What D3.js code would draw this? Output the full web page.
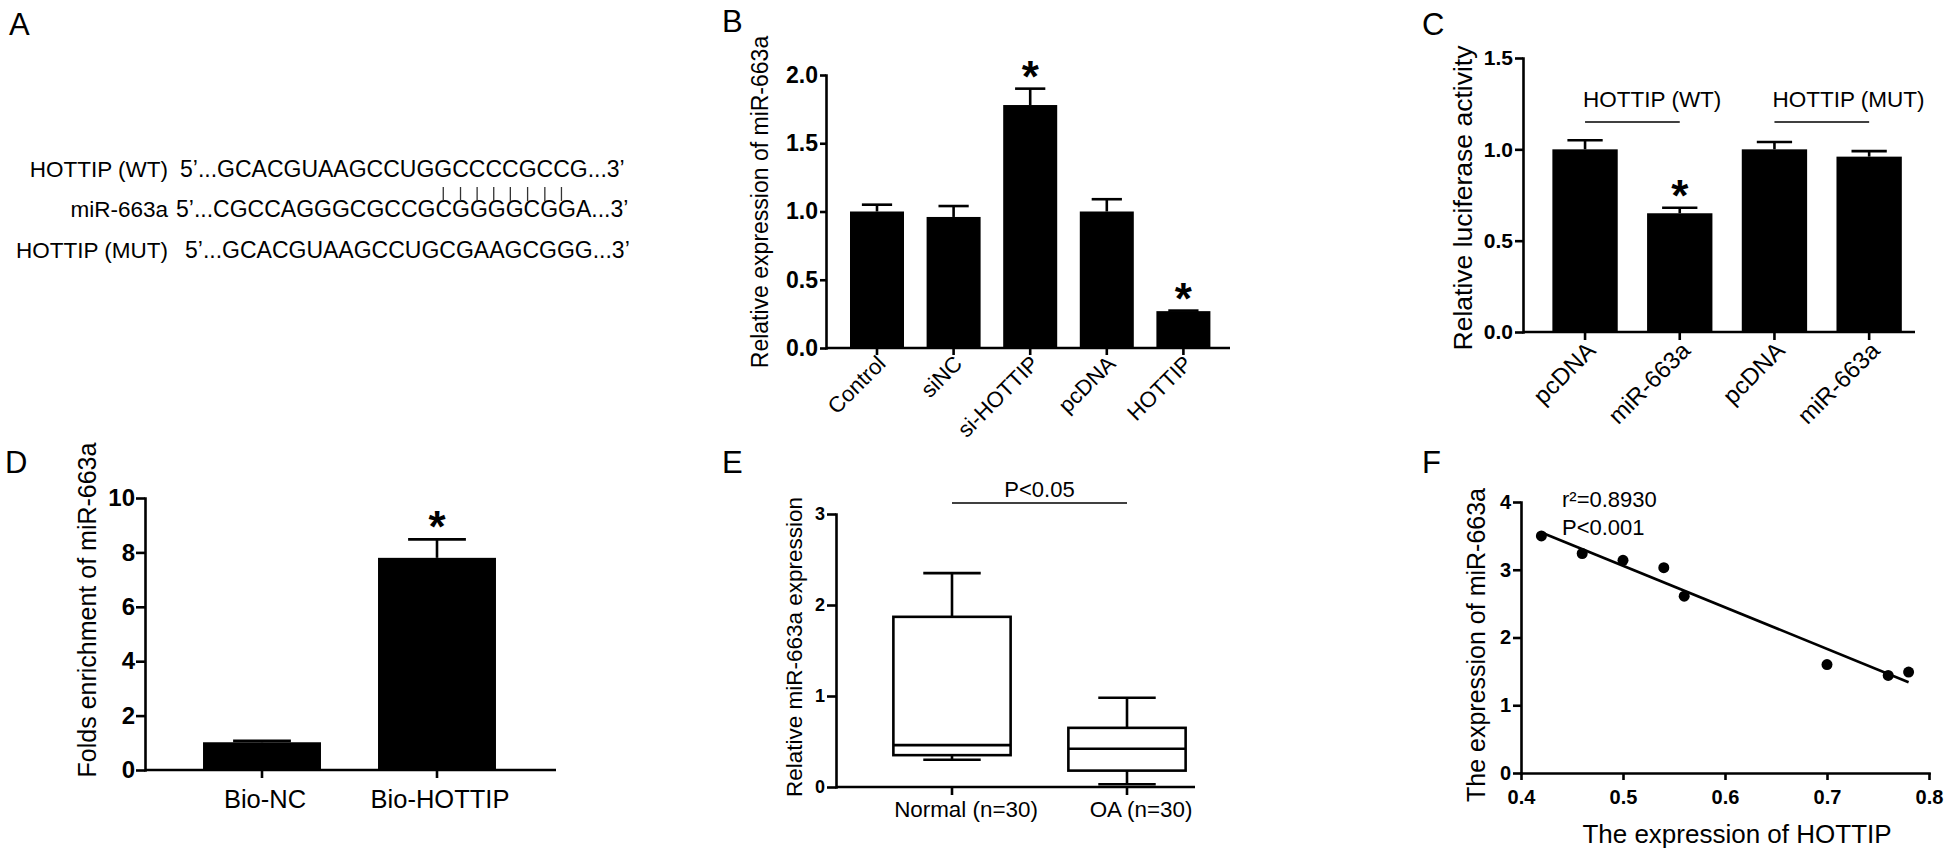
<!DOCTYPE html>
<html>
<head>
<meta charset="utf-8">
<script src="https://cdn.jsdelivr.net/npm/d3@7"></script>
<style>
  body { margin: 0; background: #fff; }
  svg { display: block; }
  text { font-family: "Liberation Sans", Arial, Helvetica, sans-serif; fill: #000; }
</style>
</head>
<body>
<script>
// ---- panel A: sequences
var seqNames = ["HOTTIP (WT)", "miR-663a", "HOTTIP (MUT)"];
var seqTexts = [
  "5’...GCACGUAAGCCUGGCCCCGCCG...3’",
  "5’...CGCCAGGGCGCCGCGGGGCGGA...3’",
  "5’...GCACGUAAGCCUGCGAAGCGGG...3’"
];
var pairedBases = [13, 14, 15, 16, 17, 18, 19, 20]; // index in WT sequence

// ---- panel B
var bLabels = ["Control", "siNC", "si-HOTTIP", "pcDNA", "HOTTIP"];
var bMeans = [1.00, 0.96, 1.78, 1.00, 0.27];
var bErrs = [0.05, 0.08, 0.12, 0.09, 0.004];
var bSig = [false, false, true, false, true];
var bTicks = [0, 0.5, 1.0, 1.5, 2.0];

// ---- panel C
var cLabels = ["pcDNA", "miR-663a", "pcDNA", "miR-663a"];
var cMeans = [1.00, 0.65, 1.00, 0.96];
var cErrs = [0.05, 0.03, 0.04, 0.03];
var cSig = [false, true, false, false];
var cGroups = ["HOTTIP (WT)", "HOTTIP (MUT)"];
var cTicks = [0, 0.5, 1.0, 1.5];

// ---- panel D
var dLabels = ["Bio-NC", "Bio-HOTTIP"];
var dMeans = [1.02, 7.80];
var dErrs = [0.05, 0.68];
var dSig = [false, true];
var dTicks = [0, 2, 4, 6, 8, 10];

// ---- panel E (box plots)
var eLabels = ["Normal (n=30)", "OA (n=30)"];
var eMin = [0.30, 0.03];
var eQ1 = [0.35, 0.18];
var eMed = [0.46, 0.42];
var eQ3 = [1.87, 0.65];
var eMax = [2.35, 0.98];
var eTicks = [0, 1, 2, 3];

// ---- panel F (correlation)
var fHottip = [0.42, 0.46, 0.50, 0.54, 0.56, 0.70, 0.76, 0.78];
var fMir = [3.50, 3.24, 3.14, 3.03, 2.61, 1.60, 1.44, 1.49];
var fXTicks = [0.4, 0.5, 0.6, 0.7, 0.8];
var fYTicks = [0, 1, 2, 3, 4];

var panelLetters = ["A", "B", "C", "D", "E", "F"];
var letterPos = [[9, 35], [722, 32], [1422, 35], [5, 473], [722, 473], [1422, 473]];

var LW = 2.6;

var svg = d3.select("body").append("svg")
  .attr("width", 1946)
  .attr("height", 855);

svg.append("rect").attr("width", 1946).attr("height", 855).attr("fill", "#fff");

svg.selectAll("text.letter")
  .data(panelLetters)
  .enter().append("text")
    .attr("class", "letter")
    .attr("x", function(d, i) { return letterPos[i][0]; })
    .attr("y", function(d, i) { return letterPos[i][1]; })
    .attr("font-size", 31)
    .text(function(d) { return d; });

function styleAxis(a, fs) {
  a.attr("font-family", null).attr("font-size", null);
  a.select(".domain").attr("stroke", "#000").attr("stroke-width", LW).attr("stroke-linecap", "square");
  a.selectAll(".tick line").attr("stroke", "#000").attr("stroke-width", LW);
  a.selectAll(".tick text").attr("font-size", fs).attr("font-weight", "bold").attr("fill", "#000");
}

function yAxis(g, y, x, ticks, fmt, o) {
  var a = g.append("g")
    .attr("transform", "translate(" + x + ",0)")
    .call(d3.axisLeft(y).tickValues(ticks).tickFormat(fmt)
      .tickSize(o.len).tickSizeOuter(0).tickPadding(o.pad));
  styleAxis(a, o.fs);
  return a;
}

function yTitle(g, text, x, cy, fs) {
  g.append("text")
    .attr("transform", "translate(" + x + "," + cy + ") rotate(-90)")
    .attr("text-anchor", "middle")
    .attr("font-size", fs)
    .text(text);
}

function star(g, cx, cy) {
  g.append("text")
    .attr("x", cx)
    .attr("y", cy + 24)
    .attr("text-anchor", "middle")
    .attr("font-size", 44)
    .attr("font-weight", "bold")
    .text("*");
}

// generic bar chart with mean + upper error bar
function barPanel(o) {
  var g = svg.append("g");
  var y = d3.scaleLinear().domain(o.yDom).range([o.y0, o.y1]);
  var x = d3.scaleBand()
    .domain(d3.range(o.labels.length))
    .range(o.band)
    .paddingInner(o.pad)
    .paddingOuter(o.pad / 2);
  var bw = x.bandwidth();
  var cx = function(i) { return x(i) + bw / 2; };

  g.selectAll("rect.bar")
    .data(o.means)
    .enter().append("rect")
      .attr("class", "bar")
      .attr("x", function(d, i) { return x(i); })
      .attr("width", bw)
      .attr("y", function(d) { return y(d); })
      .attr("height", function(d) { return y(0) - y(d); })
      .attr("fill", "#000");

  var err = g.selectAll("g.err")
    .data(o.means)
    .enter().append("g")
      .attr("class", "err");
  err.append("line")
    .attr("x1", function(d, i) { return cx(i); })
    .attr("x2", function(d, i) { return cx(i); })
    .attr("y1", function(d) { return y(d); })
    .attr("y2", function(d, i) { return y(d + o.errs[i]); })
    .attr("stroke", "#000").attr("stroke-width", LW);
  err.append("line")
    .attr("x1", function(d, i) { return cx(i) - bw * o.cap; })
    .attr("x2", function(d, i) { return cx(i) + bw * o.cap; })
    .attr("y1", function(d, i) { return y(d + o.errs[i]); })
    .attr("y2", function(d, i) { return y(d + o.errs[i]); })
    .attr("stroke", "#000").attr("stroke-width", LW);

  o.sig.forEach(function(s, i) {
    if (s) star(g, cx(i), y(o.means[i] + o.errs[i]) - 21);
  });

  // x axis: line + ticks at the band centres
  g.append("line")
    .attr("x1", o.x0).attr("x2", o.xEnd)
    .attr("y1", y(0)).attr("y2", y(0))
    .attr("stroke", "#000").attr("stroke-width", LW);
  g.selectAll("line.xt")
    .data(o.labels)
    .enter().append("line")
      .attr("class", "xt")
      .attr("x1", function(d, i) { return cx(i); })
      .attr("x2", function(d, i) { return cx(i); })
      .attr("y1", y(0)).attr("y2", y(0) + o.xTick)
      .attr("stroke", "#000").attr("stroke-width", LW);

  yAxis(g, y, o.x0, o.ticks, o.fmt, o.yax);

  var lab = g.selectAll("text.xl")
    .data(o.labels)
    .enter().append("text")
      .attr("class", "xl")
      .attr("font-size", o.labelFs)
      .text(function(d) { return d; });
  if (o.rotate) {
    lab.attr("text-anchor", "end")
      .attr("transform", function(d, i) {
        return "translate(" + (cx(i) + o.ldx) + "," + (y(0) + o.ldy) + ") rotate(-45)";
      });
  } else {
    lab.attr("text-anchor", "middle")
      .attr("x", function(d, i) { return cx(i) + o.ldx; })
      .attr("y", y(0) + o.ldy);
  }

  yTitle(g, o.title, o.titleX, o.titleY, o.titleFs);
  return { g: g, x: x, y: y, cx: cx };
}

// ---------------- A
var gA = svg.append("g");
var rowY = [177, 217, 258];
var seqX = [180, 176, 185];
gA.selectAll("text.name")
  .data(seqNames)
  .enter().append("text")
    .attr("class", "name")
    .attr("x", 168)
    .attr("y", function(d, i) { return rowY[i]; })
    .attr("text-anchor", "end")
    .attr("font-size", 22.5)
    .attr("fill", "#111")
    .text(function(d) { return d; });
var seqs = gA.selectAll("text.seq")
  .data(seqTexts)
  .enter().append("text")
    .attr("class", "seq")
    .attr("x", function(d, i) { return seqX[i]; })
    .attr("y", function(d, i) { return rowY[i]; })
    .attr("font-size", 23)
    .attr("fill", "#111")
    .text(function(d) { return d; });
var wtNode = seqs.nodes()[0];
gA.selectAll("line.pair")
  .data(pairedBases)
  .enter().append("line")
    .attr("class", "pair")
    .attr("x1", function(k) { var e = wtNode.getExtentOfChar(5 + k); return e.x + e.width / 2; })
    .attr("x2", function(k) { var e = wtNode.getExtentOfChar(5 + k); return e.x + e.width / 2; })
    .attr("y1", 187).attr("y2", 201)
    .attr("stroke", "#333").attr("stroke-width", 1.3);

// ---------------- B
barPanel({
  labels: bLabels, means: bMeans, errs: bErrs, sig: bSig,
  yDom: [0, 2], y0: 348, y1: 75, ticks: bTicks, fmt: d3.format(".1f"),
  band: [838.7, 1221.7], pad: 0.295, cap: 0.28,
  x0: 826, xEnd: 1230, xTick: 7,
  yax: { len: 6, pad: 2, fs: 23 },
  rotate: true, labelFs: 22, ldx: 10, ldy: 17,
  title: "Relative expression of miR-663a", titleX: 768, titleY: 202, titleFs: 23
});

// ---------------- C
var pc = barPanel({
  labels: cLabels, means: cMeans, errs: cErrs, sig: cSig,
  yDom: [0, 1.5], y0: 332, y1: 58, ticks: cTicks, fmt: d3.format(".1f"),
  band: [1537.7, 1916.5], pad: 0.31, cap: 0.27,
  x0: 1523, xEnd: 1915, xTick: 8,
  yax: { len: 8, pad: 2, fs: 21 },
  rotate: true, labelFs: 24, ldx: 12, ldy: 20,
  title: "Relative luciferase activity", titleX: 1472, titleY: 198, titleFs: 26.5
});
cGroups.forEach(function(name, j) {
  var a = pc.cx(2 * j), b = pc.cx(2 * j + 1);
  pc.g.append("text")
    .attr("x", a - 2).attr("y", 107)
    .attr("font-size", 22.5)
    .text(name);
  pc.g.append("line")
    .attr("x1", a).attr("x2", b)
    .attr("y1", 122).attr("y2", 122)
    .attr("stroke", "#000").attr("stroke-width", 1.6);
});

// ---------------- D
barPanel({
  labels: dLabels, means: dMeans, errs: dErrs, sig: dSig,
  yDom: [0, 10], y0: 770, y1: 498, ticks: dTicks, fmt: d3.format("d"),
  band: [174.5, 524.5], pad: 0.326, cap: 0.245,
  x0: 145, xEnd: 556, xTick: 8,
  yax: { len: 9, pad: 1, fs: 24 },
  rotate: false, labelFs: 25.5, ldx: 3, ldy: 38,
  title: "Folds enrichment of miR-663a", titleX: 96, titleY: 610, titleFs: 25
});

// ---------------- E
var gE = svg.append("g");
var yE = d3.scaleLinear().domain([0, 3]).range([787, 514]);
var xE = d3.scaleBand().domain(d3.range(eLabels.length))
  .range([864.5, 1214.5]).paddingInner(0.33).paddingOuter(0.165);
var ebw = xE.bandwidth();
var ecx = function(i) { return xE(i) + ebw / 2; };
var boxes = gE.selectAll("g.box")
  .data(eLabels)
  .enter().append("g")
    .attr("class", "box")
    .attr("stroke", "#000").attr("stroke-width", LW).attr("fill", "none");
boxes.append("rect")
  .attr("x", function(d, i) { return xE(i); })
  .attr("width", ebw)
  .attr("y", function(d, i) { return yE(eQ3[i]); })
  .attr("height", function(d, i) { return yE(eQ1[i]) - yE(eQ3[i]); });
boxes.append("line")
  .attr("x1", function(d, i) { return xE(i); })
  .attr("x2", function(d, i) { return xE(i) + ebw; })
  .attr("y1", function(d, i) { return yE(eMed[i]); })
  .attr("y2", function(d, i) { return yE(eMed[i]); });
boxes.append("line")
  .attr("x1", function(d, i) { return ecx(i); })
  .attr("x2", function(d, i) { return ecx(i); })
  .attr("y1", function(d, i) { return yE(eQ3[i]); })
  .attr("y2", function(d, i) { return yE(eMax[i]); });
boxes.append("line")
  .attr("x1", function(d, i) { return ecx(i); })
  .attr("x2", function(d, i) { return ecx(i); })
  .attr("y1", function(d, i) { return yE(eQ1[i]); })
  .attr("y2", function(d, i) { return yE(eMin[i]); });
[eMax, eMin].forEach(function(arr) {
  boxes.append("line")
    .attr("x1", function(d, i) { return ecx(i) - ebw * 0.245; })
    .attr("x2", function(d, i) { return ecx(i) + ebw * 0.245; })
    .attr("y1", function(d, i) { return yE(arr[i]); })
    .attr("y2", function(d, i) { return yE(arr[i]); });
});
gE.append("line")
  .attr("x1", 836).attr("x2", 1195)
  .attr("y1", yE(0)).attr("y2", yE(0))
  .attr("stroke", "#000").attr("stroke-width", LW);
gE.selectAll("line.xt")
  .data(eLabels)
  .enter().append("line")
    .attr("x1", function(d, i) { return ecx(i); })
    .attr("x2", function(d, i) { return ecx(i); })
    .attr("y1", yE(0)).attr("y2", yE(0) + 8)
    .attr("stroke", "#000").attr("stroke-width", LW);
yAxis(gE, yE, 836, eTicks, d3.format("d"), { len: 9, pad: 2, fs: 18 });
gE.selectAll("text.xl")
  .data(eLabels)
  .enter().append("text")
    .attr("x", function(d, i) { return ecx(i) + 14; })
    .attr("y", 817)
    .attr("text-anchor", "middle")
    .attr("font-size", 22.4)
    .text(function(d) { return d; });
gE.append("line")
  .attr("x1", ecx(0)).attr("x2", ecx(1))
  .attr("y1", 503).attr("y2", 503)
  .attr("stroke", "#000").attr("stroke-width", 1.6);
gE.append("text")
  .attr("x", (ecx(0) + ecx(1)) / 2).attr("y", 497)
  .attr("text-anchor", "middle")
  .attr("font-size", 22)
  .text("P<0.05");
yTitle(gE, "Relative miR-663a expression", 802, 647, 22.5);

// ---------------- F
var gF = svg.append("g");
var xF = d3.scaleLinear().domain([0.4, 0.8]).range([1521, 1929]);
var yF = d3.scaleLinear().domain([0, 4]).range([773, 502]);

// least-squares fit
var mx = d3.mean(fHottip), my = d3.mean(fMir);
var sxy = d3.sum(fHottip, function(v, i) { return (v - mx) * (fMir[i] - my); });
var sxx = d3.sum(fHottip, function(v) { return (v - mx) * (v - mx); });
var slope = sxy / sxx, icpt = my - slope * mx;
var xLo = d3.min(fHottip), xHi = d3.max(fHottip);
gF.append("line")
  .attr("x1", xF(xLo)).attr("y1", yF(icpt + slope * xLo))
  .attr("x2", xF(xHi)).attr("y2", yF(icpt + slope * xHi))
  .attr("stroke", "#000").attr("stroke-width", LW);

gF.selectAll("circle")
  .data(fHottip)
  .enter().append("circle")
    .attr("cx", function(d) { return xF(d); })
    .attr("cy", function(d, i) { return yF(fMir[i]); })
    .attr("r", 5.5)
    .attr("fill", "#000");

var axF = gF.append("g")
  .attr("transform", "translate(0," + yF(0) + ")")
  .call(d3.axisBottom(xF).tickValues(fXTicks).tickFormat(d3.format(".1f"))
    .tickSize(7).tickSizeOuter(0).tickPadding(10));
styleAxis(axF, 20);
yAxis(gF, yF, 1521, fYTicks, d3.format("d"), { len: 8, pad: 2, fs: 20 });

gF.append("text").attr("x", 1562).attr("y", 507).attr("font-size", 22).text("r²=0.8930");
gF.append("text").attr("x", 1562).attr("y", 535).attr("font-size", 22).text("P<0.001");
yTitle(gF, "The expression of miR-663a", 1485, 645, 25);
gF.append("text")
  .attr("x", 1737).attr("y", 843)
  .attr("text-anchor", "middle")
  .attr("font-size", 26)
  .text("The expression of HOTTIP");
</script>
</body>
</html>
